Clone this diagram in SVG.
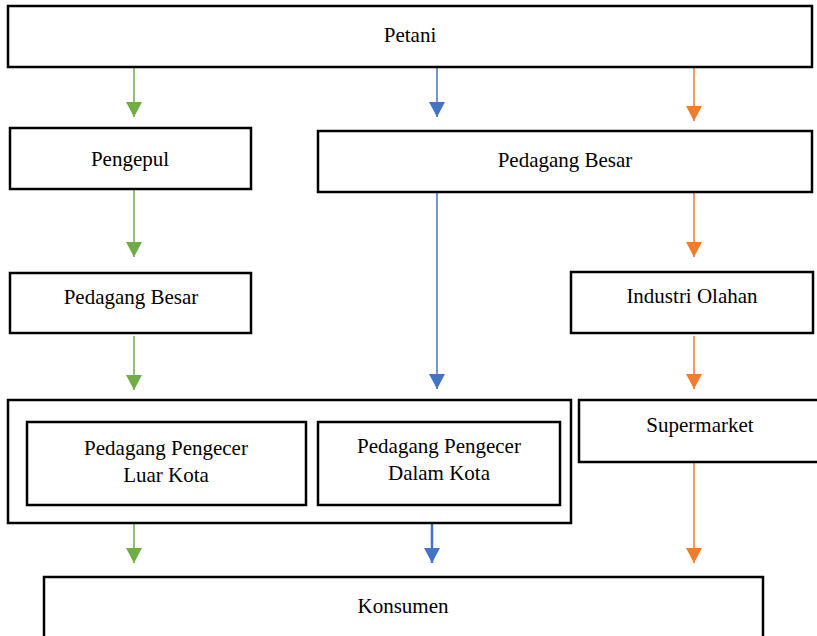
<svg xmlns="http://www.w3.org/2000/svg" width="817" height="636" viewBox="0 0 817 636">
  <style>
    .box { fill: #ffffff; stroke: #000000; stroke-width: 2.5; }
    .link { fill: none; stroke-width: 1.5; }
    .g { stroke: #70AD47; }
    .b { stroke: #4472C4; }
    .o { stroke: #ED7D31; }
  </style>
  <defs>
    <marker id="arrG" viewBox="0 0 15 16" refX="15" refY="8" markerWidth="15" markerHeight="16" markerUnits="userSpaceOnUse" orient="auto">
      <path d="M0,0 L15,8 L0,16 z" fill="#70AD47"/>
    </marker>
    <marker id="arrB" viewBox="0 0 15 16" refX="15" refY="8" markerWidth="15" markerHeight="16" markerUnits="userSpaceOnUse" orient="auto">
      <path d="M0,0 L15,8 L0,16 z" fill="#4472C4"/>
    </marker>
    <marker id="arrO" viewBox="0 0 15 16" refX="15" refY="8" markerWidth="15" markerHeight="16" markerUnits="userSpaceOnUse" orient="auto">
      <path d="M0,0 L15,8 L0,16 z" fill="#ED7D31"/>
    </marker>
  </defs>

  <!-- flow connectors -->
  <g id="connectors">
    <path class="link g" d="M134,68 L134,117" marker-end="url(#arrG)"/>
    <path class="link b" d="M437,68 L437,117" marker-end="url(#arrB)"/>
    <path class="link o" d="M694,68 L694,121" marker-end="url(#arrO)"/>
    <path class="link g" d="M134,190 L134,257" marker-end="url(#arrG)"/>
    <path class="link b" d="M437,193 L437,389" marker-end="url(#arrB)"/>
    <path class="link o" d="M694,193 L694,257" marker-end="url(#arrO)"/>
    <path class="link g" d="M134,336 L134,390" marker-end="url(#arrG)"/>
    <path class="link o" d="M694,336 L694,389" marker-end="url(#arrO)"/>
    <path class="link g" d="M134,524 L134,563" marker-end="url(#arrG)"/>
    <path class="link b" style="stroke-width:2.5" d="M432,524 L432,563" marker-end="url(#arrB)"/>
    <path class="link o" d="M694,463 L694,563" marker-end="url(#arrO)"/>
  </g>

  <g font-family="Liberation Serif, serif" font-size="21" fill="#000000" text-anchor="middle">
    <g id="petani">
      <rect class="box" x="8" y="6" width="804" height="61"/>
      <text x="410" y="42">Petani</text>
    </g>

    <g id="pengepul">
      <rect class="box" x="10" y="128" width="241" height="61"/>
      <text x="130" y="166">Pengepul</text>
    </g>

    <g id="pedagang-besar-kanan">
      <rect class="box" x="318" y="131" width="494" height="61"/>
      <text x="565" y="167">Pedagang Besar</text>
    </g>

    <g id="pedagang-besar-kiri">
      <rect class="box" x="10" y="273" width="241" height="60"/>
      <text x="131" y="304">Pedagang Besar</text>
    </g>

    <g id="industri-olahan">
      <rect class="box" x="571" y="272" width="242" height="61"/>
      <text x="692" y="303">Industri Olahan</text>
    </g>

    <g id="pengecer">
      <rect class="box" x="8" y="400" width="563" height="123"/>
      <g id="pengecer-luar-kota">
        <rect class="box" x="27" y="422" width="279" height="83"/>
        <text x="166" y="455">Pedagang Pengecer</text>
        <text x="166" y="482">Luar Kota</text>
      </g>
      <g id="pengecer-dalam-kota">
        <rect class="box" x="318" y="422" width="242" height="83"/>
        <text x="439" y="453">Pedagang Pengecer</text>
        <text x="439" y="480">Dalam Kota</text>
      </g>
    </g>

    <g id="supermarket">
      <rect class="box" x="579" y="400" width="245" height="62"/>
      <text x="700" y="432">Supermarket</text>
    </g>

    <g id="konsumen">
      <rect class="box" x="44" y="577" width="719" height="70"/>
      <text x="403" y="613">Konsumen</text>
    </g>
  </g>
</svg>
